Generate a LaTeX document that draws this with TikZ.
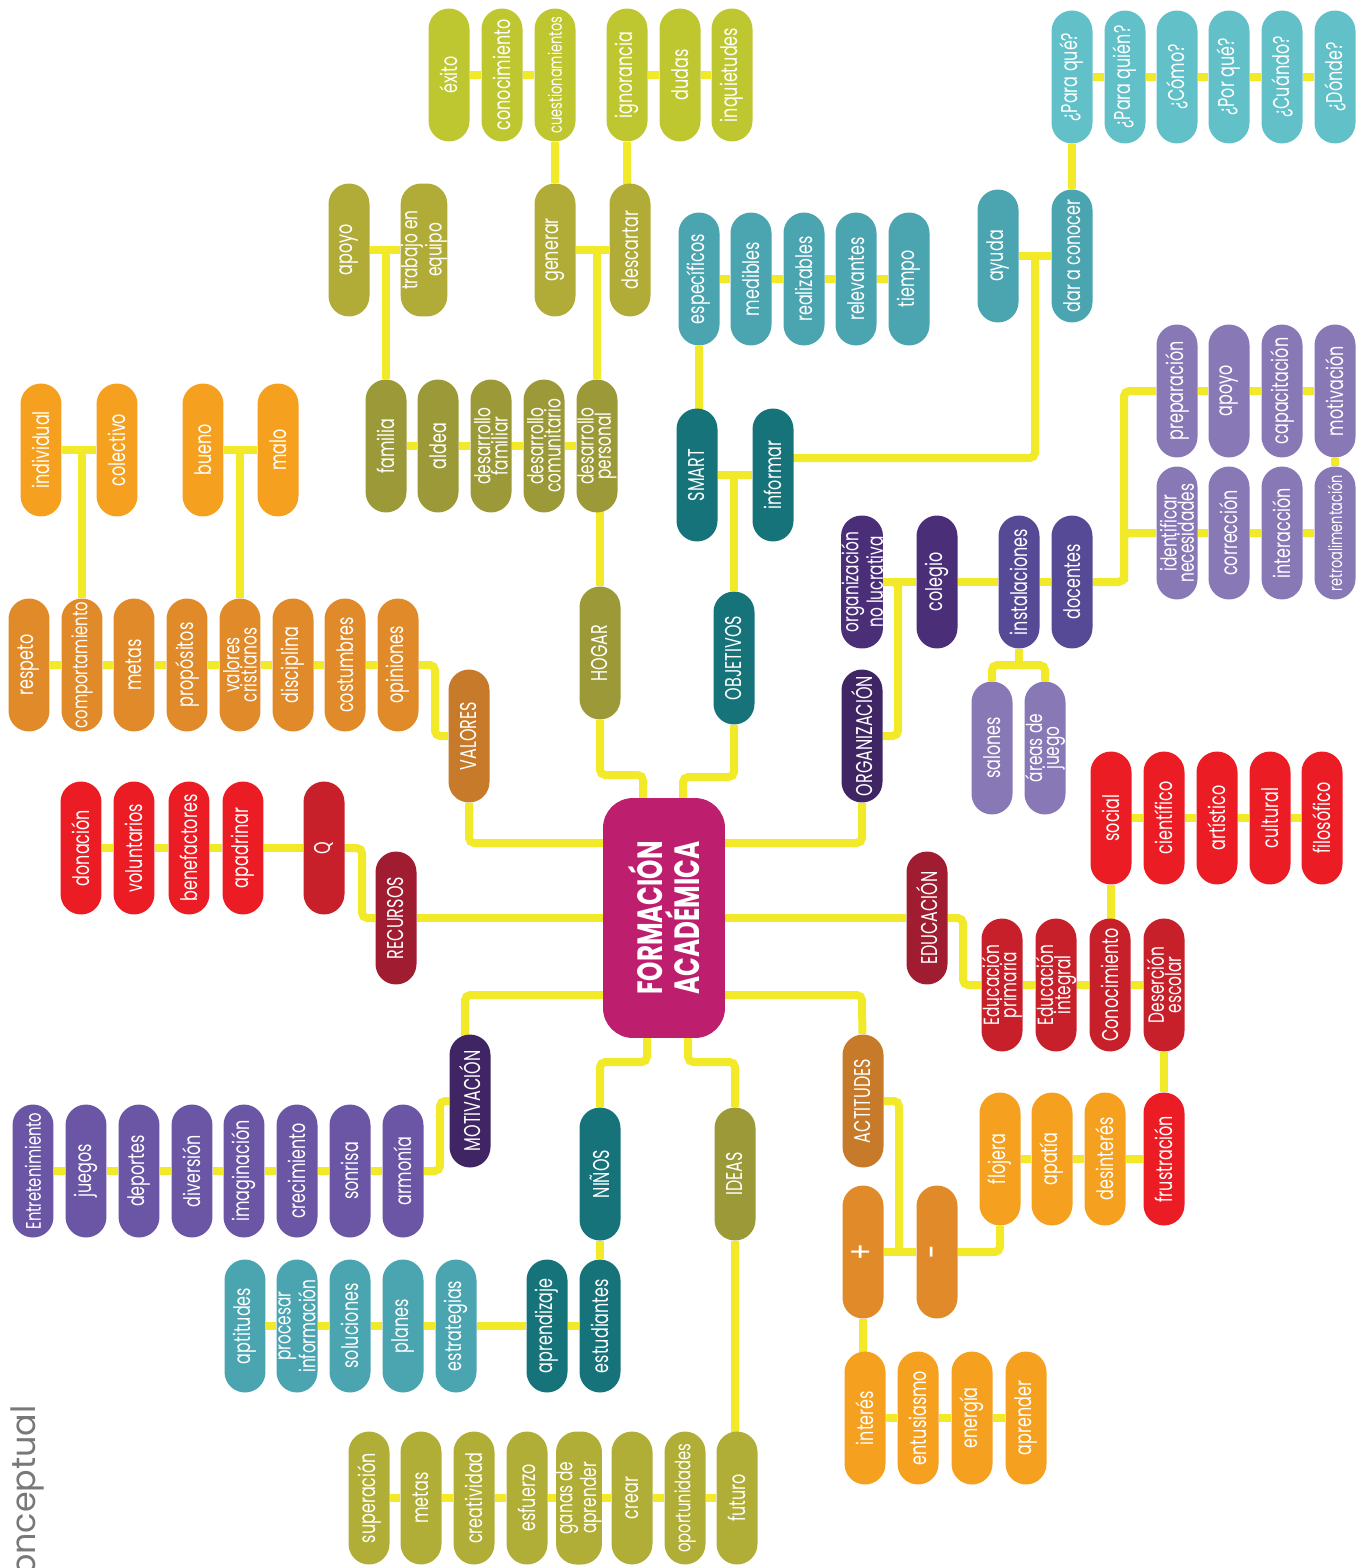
\documentclass[tikz,border=0pt]{standalone}
\usepackage{fontspec}
\setmainfont{Poppins}[FakeStretch=0.7]
\newfontfamily\titlefont{Poppins}
\definecolor{linkyellow}{RGB}{242,234,40}
\definecolor{limefill}{RGB}{191,199,48}
\definecolor{olivefill}{RGB}{177,172,56}
\definecolor{hogarfill}{RGB}{156,154,56}
\definecolor{ideasfill}{RGB}{176,174,54}
\definecolor{tealfill}{RGB}{74,165,176}
\definecolor{cyanfill}{RGB}{98,193,200}
\definecolor{darktealfill}{RGB}{23,115,122}
\definecolor{orangefill}{RGB}{224,138,41}
\definecolor{lightorangefill}{RGB}{246,160,32}
\definecolor{brownfill}{RGB}{198,122,42}
\definecolor{redfill}{RGB}{236,28,36}
\definecolor{crimsonfill}{RGB}{200,32,42}
\definecolor{winefill}{RGB}{160,28,48}
\definecolor{darkpurplefill}{RGB}{63,37,99}
\definecolor{purplefill}{RGB}{74,46,120}
\definecolor{indigofill}{RGB}{86,74,150}
\definecolor{lavenderfill}{RGB}{136,120,182}
\definecolor{violetfill}{RGB}{106,86,164}
\definecolor{centerfill}{RGB}{190,30,110}
\definecolor{titlegray}{RGB}{120,120,120}
\pgfdeclarelayer{bg}
\pgfsetlayers{bg,main}

\begin{document}
\begin{tikzpicture}[
  x=0.02cm, y=-0.02cm,
  pill/.style={rotate=90, rounded corners=0.41cm, minimum width=2.66cm,
               minimum height=0.82cm, inner sep=0pt, text=white, align=center,
               font=\fontsize{13}{10}\selectfont},
  twoline/.style={pill, font=\fontsize{12.5}{9.8}\selectfont},
  smallpill/.style={pill, font=\fontsize{10.5}{10}\selectfont},
  headpill/.style={pill, font=\fontsize{13}{10}\selectfont},
  hub/.style={rotate=90, rounded corners=0.6cm, minimum width=4.8cm,
              minimum height=2.44cm, inner sep=0pt, text=white, align=center,
              fill=centerfill, font=\bfseries\fontsize{20}{17}\selectfont},
  link/.style={draw=linkyellow, line width=0.16cm, rounded corners=3pt}
]
\useasboundingbox (0,0) rectangle (1366,1568);

% Center
\node[hub] (fa) at (664,918) {FORMACIÓN\\ACADÉMICA};

% HOGAR branch
\node[headpill, fill=hogarfill] (hogar) at (600,653) {HOGAR};
\node[pill, fill=hogarfill] (familia) at (386,446) {familia};
\node[pill, fill=hogarfill] (aldea) at (438,446) {aldea};
\node[twoline, fill=hogarfill] (desfam) at (491,446) {desarrollo\\familiar};
\node[twoline, fill=hogarfill] (descom) at (544,446) {desarrollo\\comunitario};
\node[twoline, fill=hogarfill] (desper) at (597,446) {desarrollo\\personal};
\node[pill, fill=olivefill] (apoyoh) at (349,250) {apoyo};
\node[twoline, fill=olivefill] (trabajo) at (424,250) {trabajo en\\equipo};
\node[pill, fill=olivefill] (generar) at (555,250) {generar};
\node[pill, fill=olivefill] (descartar) at (630,250) {descartar};
\node[pill, fill=limefill] (exito) at (449,75) {éxito};
\node[pill, fill=limefill] (conocim) at (502,75) {conocimiento};
\node[smallpill, fill=limefill] (cuestion) at (555,75) {cuestionamientos};
\node[pill, fill=limefill] (ignor) at (627,75) {ignorancia};
\node[pill, fill=limefill] (dudas) at (680,75) {dudas};
\node[pill, fill=limefill] (inquiet) at (732,75) {inquietudes};

% OBJETIVOS branch
\node[headpill, fill=darktealfill] (objetivos) at (734,658) {OBJETIVOS};
\node[pill, fill=darktealfill] (smart) at (697,475) {SMART};
\node[pill, fill=darktealfill] (informar) at (773,475) {informar};
\node[pill, fill=tealfill] (especif) at (699,279) {específicos};
\node[pill, fill=tealfill] (medibles) at (751,279) {medibles};
\node[pill, fill=tealfill] (realiz) at (804,279) {realizables};
\node[pill, fill=tealfill] (relev) at (856,279) {relevantes};
\node[pill, fill=tealfill] (tiempo) at (909,279) {tiempo};
\node[pill, fill=tealfill] (ayuda) at (998,256) {ayuda};
\node[pill, fill=tealfill] (darcon) at (1072,256) {dar a conocer};
\node[pill, fill=cyanfill] (paraque) at (1072,77) {¿Para qué?};
\node[pill, fill=cyanfill] (paraquien) at (1125,77) {¿Para quién?};
\node[pill, fill=cyanfill] (como) at (1177,77) {¿Cómo?};
\node[pill, fill=cyanfill] (porque) at (1229,77) {¿Por qué?};
\node[pill, fill=cyanfill] (cuando) at (1282,77) {¿Cuándo?};
\node[pill, fill=cyanfill] (donde) at (1335,77) {¿Dónde?};

% VALORES branch
\node[headpill, fill=brownfill] (valores) at (469,736) {VALORES};
\node[pill, fill=orangefill] (respeto) at (29,665) {respeto};
\node[pill, fill=orangefill, font=\fontsize{12}{10}\selectfont] (comport) at (82,665) {comportamiento};
\node[pill, fill=orangefill] (metas) at (134,665) {metas};
\node[pill, fill=orangefill] (propos) at (187,665) {propósitos};
\node[twoline, fill=orangefill] (valcrist) at (240,665) {valores\\cristianos};
\node[pill, fill=orangefill] (discip) at (293,665) {disciplina};
\node[pill, fill=orangefill] (costum) at (345,665) {costumbres};
\node[pill, fill=orangefill] (opiniones) at (398,665) {opiniones};
\node[pill, fill=lightorangefill] (individual) at (41,450) {individual};
\node[pill, fill=lightorangefill] (colectivo) at (117,450) {colectivo};
\node[pill, fill=lightorangefill] (bueno) at (203,450) {bueno};
\node[pill, fill=lightorangefill] (malo) at (278,450) {malo};

% RECURSOS branch
\node[headpill, fill=winefill] (recursos) at (396,918) {RECURSOS};
\node[pill, fill=crimsonfill] (q) at (324,848) {Q};
\node[pill, fill=redfill] (donacion) at (81,848) {donación};
\node[pill, fill=redfill] (voluntarios) at (134,848) {voluntarios};
\node[pill, fill=redfill] (benefact) at (189,848) {benefactores};
\node[pill, fill=redfill] (apadrinar) at (243,848) {apadrinar};

% ORGANIZACION branch
\node[headpill, fill=darkpurplefill] (organiz) at (862,736) {ORGANIZACIÓN};
\node[twoline, fill=purplefill] (orgnolu) at (862,582) {organización\\no lucrativa};
\node[pill, fill=purplefill] (colegio) at (937,582) {colegio};
\node[pill, fill=indigofill] (instal) at (1019,582) {instalaciones};
\node[pill, fill=indigofill] (docentes) at (1072,582) {docentes};
\node[pill, fill=lavenderfill] (salones) at (992,748) {salones};
\node[twoline, fill=lavenderfill] (areas) at (1045,748) {áreas de\\juego};
\node[pill, fill=lavenderfill] (prepar) at (1177,391) {preparación};
\node[pill, fill=lavenderfill] (apoyod) at (1229,391) {apoyo};
\node[pill, fill=lavenderfill] (capacit) at (1282,391) {capacitación};
\node[pill, fill=lavenderfill] (motivd) at (1335,391) {motivación};
\node[twoline, fill=lavenderfill] (ident) at (1177,533) {identificar\\necesidades};
\node[pill, fill=lavenderfill] (correc) at (1229,533) {corrección};
\node[pill, fill=lavenderfill] (interac) at (1282,533) {interacción};
\node[smallpill, fill=lavenderfill] (retro) at (1335,533) {retroalimentación};

% EDUCACION branch
\node[headpill, fill=winefill] (educacion) at (927,918) {EDUCACIÓN};
\node[twoline, fill=crimsonfill] (edprim) at (1002,985) {Educación\\primaria};
\node[twoline, fill=crimsonfill] (edint) at (1056,985) {Educación\\integral};
\node[pill, fill=crimsonfill] (conoc) at (1110,985) {Conocimiento};
\node[twoline, fill=crimsonfill] (deser) at (1164,985) {Deserción\\escolar};
\node[pill, fill=redfill] (social) at (1111,818) {social};
\node[pill, fill=redfill] (cientif) at (1164,818) {científico};
\node[pill, fill=redfill] (artist) at (1217,818) {artístico};
\node[pill, fill=redfill] (cultural) at (1270,818) {cultural};
\node[pill, fill=redfill] (filosof) at (1322,818) {filosófico};

% ACTITUDES branch
\node[headpill, fill=brownfill] (actitudes) at (863,1101) {ACTITUDES};
\node[pill, fill=orangefill, font=\fontsize{20}{20}\selectfont] (plus) at (863,1252) {+};
\node[pill, fill=orangefill, font=\fontsize{20}{20}\selectfont] (minus) at (937,1252) {-};
\node[pill, fill=lightorangefill] (flojera) at (1000,1159) {flojera};
\node[pill, fill=lightorangefill] (apatia) at (1052,1159) {apatía};
\node[pill, fill=lightorangefill] (desint) at (1105,1159) {desinterés};
\node[pill, fill=redfill] (frustr) at (1164,1159) {frustración};
\node[pill, fill=lightorangefill] (interes) at (865,1418) {interés};
\node[pill, fill=lightorangefill] (entus) at (918,1418) {entusiasmo};
\node[pill, fill=lightorangefill] (energia) at (972,1418) {energía};
\node[pill, fill=lightorangefill] (aprender) at (1026,1418) {aprender};

% MOTIVACION branch
\node[headpill, fill=darkpurplefill] (motivac) at (470,1101) {MOTIVACIÓN};
\node[pill, fill=violetfill, font=\fontsize{12}{10}\selectfont] (entret) at (33,1171) {Entretenimiento};
\node[pill, fill=violetfill] (juegos) at (86,1171) {juegos};
\node[pill, fill=violetfill] (deportes) at (139,1171) {deportes};
\node[pill, fill=violetfill] (diversion) at (192,1171) {diversión};
\node[pill, fill=violetfill] (imagin) at (244,1171) {imaginación};
\node[pill, fill=violetfill] (crecim) at (297,1171) {crecimiento};
\node[pill, fill=violetfill] (sonrisa) at (350,1171) {sonrisa};
\node[pill, fill=violetfill] (armonia) at (403,1171) {armonía};

% NINOS branch
\node[headpill, fill=darktealfill] (ninos) at (600,1174) {NIÑOS};
\node[pill, fill=tealfill] (aptitudes) at (245,1326) {aptitudes};
\node[twoline, fill=tealfill] (procesar) at (297,1326) {procesar\\información};
\node[pill, fill=tealfill] (soluciones) at (350,1326) {soluciones};
\node[pill, fill=tealfill] (planes) at (403,1326) {planes};
\node[pill, fill=tealfill] (estrateg) at (456,1326) {estrategias};
\node[pill, fill=darktealfill] (aprendiz) at (547,1326) {aprendizaje};
\node[pill, fill=darktealfill] (estudiantes) at (600,1326) {estudiantes};

% IDEAS branch
\node[headpill, fill=hogarfill] (ideas) at (735,1174) {IDEAS};
\node[pill, fill=ideasfill] (superac) at (369,1498) {superación};
\node[pill, fill=ideasfill] (metasi) at (421,1498) {metas};
\node[pill, fill=ideasfill] (creativ) at (474,1498) {creatividad};
\node[pill, fill=ideasfill] (esfuerzo) at (527,1498) {esfuerzo};
\node[twoline, fill=ideasfill] (ganas) at (579,1498) {ganas de\\aprender};
\node[pill, fill=ideasfill] (crear) at (632,1498) {crear};
\node[pill, fill=ideasfill, font=\fontsize{12}{10}\selectfont] (oportun) at (685,1498) {oportunidades};
\node[pill, fill=ideasfill] (futuro) at (737,1498) {futuro};

% Title, cut by the page edge
\node[rotate=90, anchor=east, text=titlegray, inner sep=0pt,
      font={\titlefont\fontsize{19}{19}\selectfont}] (titulo) at (27,1405) {conceptual};

% Yellow connectors behind the pills
\begin{pgfonlayer}{bg}
\draw[link] (exito) -- (conocim) -- (cuestion);
\draw[link] (ignor) -- (dudas) -- (inquiet);
\draw[link] (cuestion) -- (generar);
\draw[link] (ignor) -- (ignor |- descartar);
\draw[link] (apoyoh) -- (trabajo);
\draw[link] (generar) -- (descartar);
\draw[link] (familia) -- (familia |- trabajo);
\draw[link] (desper) -- (desper |- generar);
\draw[link] (familia) -- (aldea) -- (desfam) -- (descom) -- (desper);
\draw[link] (hogar) -- (hogar |- desper);
\coordinate (hb) at (643,775);
\draw[link] (hogar) |- (hb) -- (hb |- fa);

\draw[link] (especif) -- (medibles) -- (realiz) -- (relev) -- (tiempo);
\draw[link] (especif) -- (especif |- smart);
\draw[link] (smart) -- (informar);
\draw[link] (objetivos) -- (objetivos |- smart);
\coordinate (ob) at (683,777);
\draw[link] (objetivos) |- (ob) -- (ob |- fa);
\draw[link] (paraque) -- (paraquien) -- (como) -- (porque) -- (cuando) -- (donde);
\draw[link] (paraque) -- (darcon);
\draw[link] (ayuda) -- (darcon);
\coordinate (inf) at (1035,458);
\draw[link] (informar |- inf) -- (inf) -- (inf |- ayuda);

\draw[link] (individual) -- (colectivo);
\draw[link] (comport) -- (comport |- individual);
\draw[link] (bueno) -- (malo);
\draw[link] (valcrist) -- (valcrist |- bueno);
\draw[link] (respeto) -- (comport) -- (metas) -- (propos) -- (valcrist)
  -- (discip) -- (costum) -- (opiniones);
\coordinate (vj) at (435,700);
\draw[link] (opiniones) -| (vj) |- (valores);
\coordinate (fv) at (469,843);
\draw[link] (valores) -- (fv) -- (fv -| fa);

\draw[link] (donacion) -- (voluntarios) -- (benefact) -- (apadrinar) -- (q);
\coordinate (rj) at (362,880);
\draw[link] (q) -| (rj) |- (recursos);
\draw[link] (recursos) -- (fa);

\coordinate (fo) at (862,843);
\draw[link] (fo -| fa) -- (fo) -- (organiz);
\coordinate (oj) at (898,582);
\draw[link] (organiz) -| (oj) -- (orgnolu);
\draw[link] (orgnolu) -- (colegio) -- (instal) -- (docentes);
\coordinate (ib) at (1019,665);
\draw[link] (instal) -- (ib);
\draw[link] (salones) |- (ib) -| (areas);
\coordinate (dj) at (1124,582);
\draw[link] (docentes) -- (dj) |- (ident);
\draw[link] (dj) |- (prepar);
\draw[link] (prepar) -- (apoyod) -- (capacit) -- (motivd);
\draw[link] (ident) -- (correc) -- (interac) -- (retro);
\draw[link] (motivd) -- (retro);

\draw[link] (fa) -- (educacion);
\coordinate (ej) at (963,950);
\draw[link] (educacion) -| (ej) |- (edprim);
\draw[link] (edprim) -- (edint) -- (conoc) -- (deser);
\draw[link] (social) -- (social |- conoc);
\draw[link] (social) -- (cientif) -- (artist) -- (cultural) -- (filosof);

\coordinate (fac) at (862,995);
\draw[link] (fac -| fa) -- (fac) -- (actitudes);
\coordinate (aj) at (899,1252);
\draw[link] (actitudes) -| (aj);
\draw[link] (plus) -- (minus);
\draw[link] (minus) -| (flojera);
\draw[link] (flojera) -- (apatia) -- (desint) -- (frustr);
\draw[link] (frustr) -- (deser);
\draw[link] (plus) -- (plus |- interes);
\draw[link] (interes) -- (entus) -- (energia) -- (aprender);

\coordinate (fm) at (465,995);
\draw[link] (fm -| fa) -- (fm) -- (fm |- motivac);
\coordinate (mj) at (440,1130);
\draw[link] (armonia) -| (mj) |- (motivac);
\draw[link] (entret) -- (juegos) -- (deportes) -- (diversion) -- (imagin)
  -- (crecim) -- (sonrisa) -- (armonia);

\coordinate (fn) at (647,1062);
\draw[link] (fn |- fa) -- (fn) -| (ninos);
\draw[link] (ninos) -- (estudiantes);
\draw[link] (aptitudes) -- (procesar) -- (soluciones) -- (planes) -- (estrateg)
  -- (aprendiz) -- (estudiantes);

\coordinate (fi) at (688,1062);
\draw[link] (fi |- fa) -- (fi) -| (ideas);
\draw[link] (ideas) -- (ideas |- futuro);
\draw[link] (superac) -- (metasi) -- (creativ) -- (esfuerzo) -- (ganas)
  -- (crear) -- (oportun) -- (futuro);
\end{pgfonlayer}
\end{tikzpicture}
\end{document}
